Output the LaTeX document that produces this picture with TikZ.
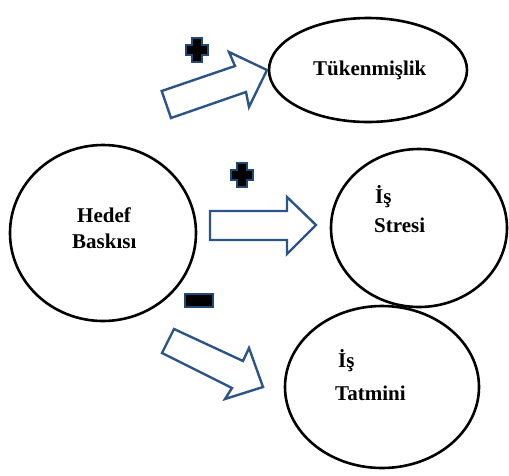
\documentclass[tikz,border=0pt]{standalone}
\usepackage{fontspec}
\setmainfont{Liberation Serif}
\usetikzlibrary{shapes.geometric}
\definecolor{arrowblue}{HTML}{2C5585}
\definecolor{signblue}{HTML}{1F4A78}
\tikzset{
  bubble/.style={draw=black, line width=2.6pt, ellipse, inner sep=0pt},
  lbl/.style={anchor=base west, inner sep=0pt, font=\fontsize{21}{24}\selectfont\bfseries},
  blockarrow/.style={draw=arrowblue, line width=2.4pt, fill=white, line join=miter},
  sign/.style={draw=signblue, line width=2pt, fill=black, line join=miter}
}
\begin{document}
\begin{tikzpicture}[x=1pt,y=-1pt]
\useasboundingbox (0,0) rectangle (509,475);
% ellipses
\node[bubble, minimum width=186pt, minimum height=176pt] (hedef) at (103,233) {};
\node[bubble, minimum width=198pt, minimum height=104pt] (tuken) at (368,70) {};
\node[bubble, minimum width=176pt, minimum height=158pt] (stres) at (419,228) {};
\node[bubble, minimum width=194pt, minimum height=162pt] (tatmin) at (382,387) {};
% labels
\node[lbl] (t1) at (313,75) {Tükenmişlik};
\node[lbl] (h1) at (77,222) {Hedef};
\node[lbl] (h2) at (72,248) {Baskısı};
\node[lbl] (s1) at (375,203) {İş};
\node[lbl] (s2) at (374,232) {Stresi};
\node[lbl] (m1) at (338,367) {İş};
\node[lbl] (m2) at (335,400) {Tatmini};
% block arrows
\draw[blockarrow] (161.7,91) -- (235,66) -- (229,52) -- (267,70) -- (249,107) -- (246,92) -- (171,118) -- cycle;
\draw[blockarrow] (210,211) -- (287,211) -- (287,197) -- (316,225) -- (287,254) -- (287,240) -- (210,240) -- cycle;
\draw[blockarrow] (174,329) -- (243,361) -- (249,348) -- (263,387) -- (225,399) -- (232,388) -- (162,353) -- cycle;
% signs
\draw[sign, shift={(197,50)}] (-5,-12) -- (5,-12) -- (5,-5) -- (11,-5) -- (11,5) -- (5,5) -- (5,12) -- (-5,12) -- (-5,5) -- (-11,5) -- (-11,-5) -- (-5,-5) -- cycle;
\draw[sign, shift={(242,175)}] (-5,-12) -- (5,-12) -- (5,-5) -- (11,-5) -- (11,5) -- (5,5) -- (5,12) -- (-5,12) -- (-5,5) -- (-11,5) -- (-11,-5) -- (-5,-5) -- cycle;
\draw[sign] (185,293.5) rectangle (213,306.5);
\end{tikzpicture}
\end{document}
